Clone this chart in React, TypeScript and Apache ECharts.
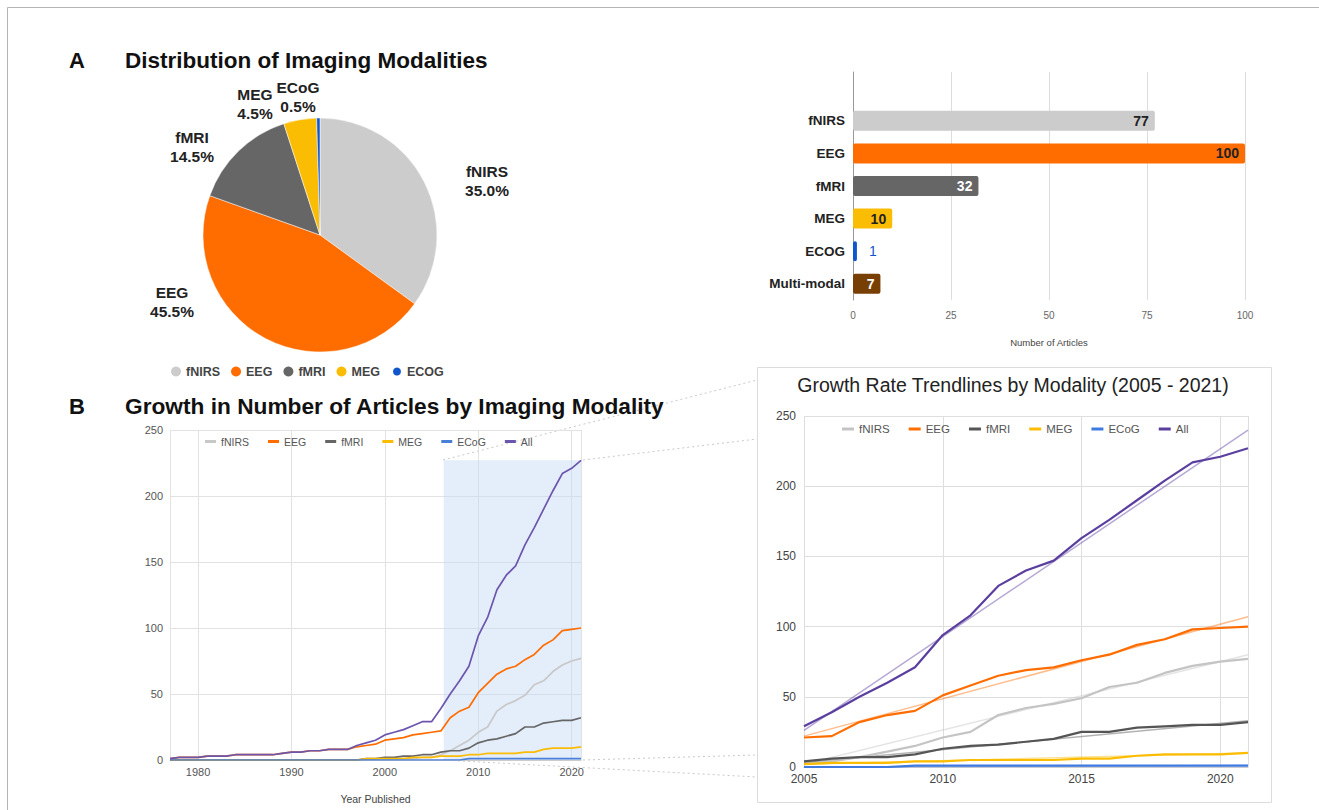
import React, { useEffect, useRef } from 'react';
import * as echarts from 'echarts';

// ---------- DATA ----------
const pieNames = ['fNIRS', 'EEG', 'fMRI', 'MEG', 'ECOG'];
const pieLabelNames = ['fNIRS', 'EEG', 'fMRI', 'MEG', 'ECoG'];
const pieValues = [77, 100, 32, 10, 1];
const pieColors = ['#cccccc', '#ff6d01', '#666666', '#fbbc04', '#1155cc'];

const barCategories = ['fNIRS', 'EEG', 'fMRI', 'MEG', 'ECOG', 'Multi-modal'];
const barValues = [77, 100, 32, 10, 1, 7];
const barColors = ['#cccccc', '#ff6d01', '#666666', '#fbbc04', '#1155cc', '#783f04'];
const barLabelColors = ['#222222', '#222222', '#ffffff', '#222222', '#1155cc', '#ffffff'];

const years = [
  1977, 1978, 1979, 1980, 1981, 1982, 1983, 1984, 1985, 1986, 1987, 1988, 1989, 1990, 1991,
  1992, 1993, 1994, 1995, 1996, 1997, 1998, 1999, 2000, 2001, 2002, 2003, 2004, 2005, 2006,
  2007, 2008, 2009, 2010, 2011, 2012, 2013, 2014, 2015, 2016, 2017, 2018, 2019, 2020, 2021,
];
const fnirsCounts = [
  0, 0, 0, 0, 0, 0, 0, 0, 0, 0, 0, 0, 0, 0, 0,
  0, 0, 0, 0, 0, 0, 0, 0, 0, 1, 1, 1, 2, 2, 4,
  7, 11, 15, 21, 25, 37, 42, 45, 49, 57, 60, 67, 72, 75, 77,
];
const eegCounts = [
  1, 2, 2, 2, 3, 3, 3, 4, 4, 4, 4, 4, 5, 6, 6,
  7, 7, 8, 8, 8, 10, 11, 12, 15, 16, 17, 19, 20, 21, 22,
  32, 37, 40, 51, 58, 65, 69, 71, 76, 80, 87, 91, 98, 99, 100,
];
const fmriCounts = [
  0, 0, 0, 0, 0, 0, 0, 0, 0, 0, 0, 0, 0, 0, 0,
  0, 0, 0, 0, 0, 0, 1, 1, 2, 2, 3, 3, 4, 4, 6,
  7, 7, 9, 13, 15, 16, 18, 20, 25, 25, 28, 29, 30, 30, 32,
];
const megCounts = [
  0, 0, 0, 0, 0, 0, 0, 0, 0, 0, 0, 0, 0, 0, 0,
  0, 0, 0, 0, 0, 0, 1, 1, 1, 1, 1, 2, 2, 2, 3,
  3, 3, 4, 4, 5, 5, 5, 5, 6, 6, 8, 9, 9, 9, 10,
];
const ecogCounts = [
  0, 0, 0, 0, 0, 0, 0, 0, 0, 0, 0, 0, 0, 0, 0,
  0, 0, 0, 0, 0, 0, 0, 0, 0, 0, 0, 0, 0, 0, 0,
  0, 0, 1, 1, 1, 1, 1, 1, 1, 1, 1, 1, 1, 1, 1,
];
const allCounts = [
  1, 2, 2, 2, 3, 3, 3, 4, 4, 4, 4, 4, 5, 6, 6,
  7, 7, 8, 8, 8, 11, 13, 15, 19, 21, 23, 26, 29, 29, 39,
  50, 60, 71, 94, 108, 129, 140, 147, 163, 176, 190, 204, 217, 221, 227,
];

const lineNames = ['fNIRS', 'EEG', 'fMRI', 'MEG', 'ECoG', 'All'];
const lineCounts = [fnirsCounts, eegCounts, fmriCounts, megCounts, ecogCounts, allCounts];
const lineColors = ['#c8c8c8', '#ff6d01', '#666666', '#fbbc04', '#4a7fd8', '#6c56ad'];
const rightLineColors = ['#c4c4c4', '#ff6d01', '#555555', '#fbbc04', '#3f7ae0', '#5b3f9f'];

// Zoomed window shown in the right panel
const zoomYears = [2006.3, 2021.2];
const zoomTop = 227;
const trendYears = [2005, 2021];
const trendStart = [2, 22, 3, 2, 0, 26];
const trendEnd = [80, 107, 33, 10, 1, 240];

const FONT = '"Liberation Sans", Arial, sans-serif';

function buildOption(): any {
  const startIdx = years.indexOf(2005);
  const pairs = (vals: number[], from = 0) =>
    years.slice(from).map((y, i) => [y, vals[from + i]]);

  // label layout for pie (text placement only)
  const pieLabelPos = [
    [487, 181],
    [172, 302],
    [192, 147],
    [255, 104],
    [298, 97],
  ];

  const leftLines = lineNames.map((name, k) => ({
    type: 'line',
    name,
    xAxisIndex: 1,
    yAxisIndex: 1,
    data: pairs(lineCounts[k]),
    showSymbol: false,
    symbol: 'none',
    silent: true,
    color: lineColors[k],
    lineStyle: { width: 1.7, color: lineColors[k] },
    z: 3 + k,
    ...(k === 0
      ? {
          markArea: {
            silent: true,
            itemStyle: { color: 'rgba(196, 214, 243, 0.45)' },
            data: [[{ coord: [zoomYears[0], 0] }, { coord: [zoomYears[1], zoomTop] }]],
          },
        }
      : {}),
  }));

  const trendLines = lineNames.map((name, k) => ({
    type: 'line',
    name: name + ' trend',
    xAxisIndex: 2,
    yAxisIndex: 2,
    data: [
      [trendYears[0], trendStart[k]],
      [trendYears[1], trendEnd[k]],
    ],
    showSymbol: false,
    symbol: 'none',
    silent: true,
    lineStyle: { width: 1.5, color: rightLineColors[k], opacity: 0.45 },
    z: 2,
  }));

  const rightLines = lineNames.map((name, k) => ({
    type: 'line',
    name,
    xAxisIndex: 2,
    yAxisIndex: 2,
    data: pairs(lineCounts[k], startIdx),
    showSymbol: false,
    symbol: 'none',
    silent: true,
    color: lineColors[k],
    lineStyle: { width: 2.2, color: rightLineColors[k] },
    z: 4 + k,
  }));

  const barCatsRev = [...barCategories].reverse();
  const barData = barValues
    .map((v, i) => ({
      value: v,
      itemStyle: { color: barColors[i], borderRadius: 2 },
      label: {
        color: barLabelColors[i],
        position: v < 3 ? 'right' : 'insideRight',
        distance: v < 3 ? 12 : 6,
        fontWeight: v < 3 ? 'normal' : 'bold',
      },
    }))
    .reverse();

  const dashed = { stroke: '#c9c9c9', lineWidth: 1, lineDash: [2, 3] };
  const plainYear = (v: number) => String(v);

  return {
    animation: false,
    backgroundColor: '#ffffff',
    textStyle: { fontFamily: FONT },
    graphic: [
      {
        type: 'rect',
        silent: true,
        z: -20,
        shape: { x: 7.5, y: 7.5, width: 1340, height: 840 },
        style: { fill: 'none', stroke: '#b5b5b5', lineWidth: 1 },
      },
      { type: 'line', silent: true, z: -10, shape: { x1: 443, y1: 460, x2: 757, y2: 380 }, style: dashed },
      { type: 'line', silent: true, z: -10, shape: { x1: 583, y1: 460, x2: 757, y2: 439 }, style: dashed },
      { type: 'line', silent: true, z: -10, shape: { x1: 583, y1: 760, x2: 757, y2: 755 }, style: dashed },
      { type: 'line', silent: true, z: -10, shape: { x1: 443, y1: 760, x2: 757, y2: 777 }, style: dashed },
      {
        type: 'rect',
        silent: true,
        z: -5,
        shape: { x: 757.5, y: 367.5, width: 514, height: 435 },
        style: { fill: '#ffffff', stroke: '#dcdcdc', lineWidth: 1 },
      },
      {
        type: 'text',
        silent: true,
        x: 69,
        y: 60,
        style: { text: 'A', font: `bold 22px ${FONT}`, fill: '#111', verticalAlign: 'middle' },
      },
      {
        type: 'text',
        silent: true,
        x: 125,
        y: 60,
        style: {
          text: 'Distribution of Imaging Modalities',
          font: `bold 22.5px ${FONT}`,
          fill: '#111',
          verticalAlign: 'middle',
        },
      },
      {
        type: 'text',
        silent: true,
        x: 69,
        y: 406,
        style: { text: 'B', font: `bold 22px ${FONT}`, fill: '#111', verticalAlign: 'middle' },
      },
      {
        type: 'text',
        silent: true,
        x: 125,
        y: 406,
        style: {
          text: 'Growth in Number of Articles by Imaging Modality',
          font: `bold 22.7px ${FONT}`,
          fill: '#111',
          verticalAlign: 'middle',
        },
      },
      {
        type: 'text',
        silent: true,
        x: 1013,
        y: 385,
        style: {
          text: 'Growth Rate Trendlines by Modality (2005 - 2021)',
          font: `19.5px ${FONT}`,
          fill: '#222',
          align: 'center',
          verticalAlign: 'middle',
        },
      },
    ],
    legend: [
      {
        left: 166,
        top: 360,
        orient: 'horizontal',
        itemWidth: 10,
        itemHeight: 10,
        itemGap: 11,
        selectedMode: false,
        textStyle: { fontFamily: FONT, fontSize: 12.5, fontWeight: 'bold', color: '#444' },
        data: pieNames.map((n, i) => ({ name: n, icon: 'circle', itemStyle: { color: pieColors[i] } })),
      },
      {
        left: 200,
        top: 431,
        itemWidth: 11,
        itemHeight: 3,
        itemGap: 19,
        selectedMode: false,
        textStyle: { fontFamily: FONT, fontSize: 10.5, color: '#555' },
        data: lineNames.map((n, i) => ({ name: n, icon: 'rect', itemStyle: { color: lineColors[i] } })),
      },
      {
        left: 837,
        top: 418,
        itemWidth: 12,
        itemHeight: 3,
        itemGap: 19,
        selectedMode: false,
        textStyle: { fontFamily: FONT, fontSize: 11.5, color: '#555' },
        data: lineNames.map((n, i) => ({ name: n, icon: 'rect', itemStyle: { color: rightLineColors[i] } })),
      },
    ],
    grid: [
      { left: 853, top: 72, width: 392, height: 228 },
      { left: 170, top: 430, width: 411, height: 330 },
      { left: 804, top: 416, width: 444, height: 351 },
    ],
    xAxis: [
      {
        gridIndex: 0,
        type: 'value',
        min: 0,
        max: 100,
        interval: 25,
        axisLine: { show: false },
        axisTick: { show: false },
        splitLine: { lineStyle: { color: '#dddddd' } },
        axisLabel: { fontSize: 10, color: '#666', margin: 10, fontFamily: FONT },
        name: 'Number of Articles',
        nameLocation: 'middle',
        nameGap: 37,
        nameTextStyle: { fontSize: 9.5, color: '#444', fontFamily: FONT },
      },
      {
        gridIndex: 1,
        type: 'value',
        min: 1977,
        max: 2021,
        splitNumber: 5,
        axisLine: { lineStyle: { color: '#cccccc' } },
        axisTick: { show: false },
        splitLine: { lineStyle: { color: '#e2e2e2' } },
        axisLabel: {
          fontSize: 11,
          color: '#555',
          margin: 6,
          showMinLabel: false,
          showMaxLabel: false,
          fontFamily: FONT,
          formatter: plainYear,
        },
        name: 'Year Published',
        nameLocation: 'middle',
        nameGap: 33,
        nameTextStyle: { fontSize: 10.5, color: '#444', fontFamily: FONT },
      },
      {
        gridIndex: 2,
        type: 'value',
        min: 2005,
        max: 2021,
        interval: 5,
        axisLine: { lineStyle: { color: '#cccccc' } },
        axisTick: { show: false },
        splitLine: { lineStyle: { color: '#dedede' } },
        axisLabel: {
          fontSize: 12,
          color: '#444',
          margin: 6,
          showMaxLabel: false,
          fontFamily: FONT,
          formatter: plainYear,
        },
      },
    ],
    yAxis: [
      {
        gridIndex: 0,
        type: 'category',
        data: barCatsRev,
        max: barCategories.length,
        axisLine: { lineStyle: { color: '#999999' } },
        axisTick: { show: false },
        splitLine: { show: false },
        axisLabel: {
          fontSize: 13.5,
          fontWeight: 'bold',
          color: '#222',
          margin: 8,
          fontFamily: FONT,
          formatter: (v: any) => (barCategories.includes(v) ? v : ''),
        },
      },
      {
        gridIndex: 1,
        type: 'value',
        min: 0,
        max: 250,
        interval: 50,
        axisLine: { show: false },
        axisTick: { show: false },
        splitLine: { lineStyle: { color: '#e2e2e2' } },
        axisLabel: { fontSize: 11, color: '#555', margin: 7, fontFamily: FONT },
      },
      {
        gridIndex: 2,
        type: 'value',
        min: 0,
        max: 250,
        interval: 50,
        axisLine: { show: false },
        axisTick: { show: false },
        splitLine: { lineStyle: { color: '#dedede' } },
        axisLabel: { fontSize: 12, color: '#444', margin: 8, fontFamily: FONT },
      },
    ],
    series: [
      {
        type: 'pie',
        name: 'Distribution',
        center: [320, 235],
        radius: 117,
        startAngle: 90,
        clockwise: true,
        percentPrecision: 1,
        silent: true,
        itemStyle: { borderColor: '#ffffff', borderWidth: 0.5 },
        data: pieNames.map((n, i) => ({ name: n, value: pieValues[i], itemStyle: { color: pieColors[i] } })),
        label: {
          show: true,
          position: 'outside',
          fontFamily: FONT,
          fontSize: 15.5,
          fontWeight: 'bold',
          color: '#222',
          lineHeight: 19,
          formatter: (p: any) => `${pieLabelNames[p.dataIndex]}\n${Number(p.percent).toFixed(1)}%`,
        },
        labelLine: { show: false },
        labelLayout: (p: any) => ({
          x: pieLabelPos[p.dataIndex][0],
          y: pieLabelPos[p.dataIndex][1],
          align: 'center',
          verticalAlign: 'middle',
        }),
      },
      {
        type: 'bar',
        name: 'Articles',
        xAxisIndex: 0,
        yAxisIndex: 0,
        barWidth: 20,
        silent: true,
        data: barData,
        label: { show: true, fontSize: 14, fontFamily: FONT },
      },
      ...leftLines,
      ...trendLines,
      ...rightLines,
    ],
  };
}

export default function App() {
  const ref = useRef<HTMLDivElement>(null);
  useEffect(() => {
    if (!ref.current) return;
    const chart = echarts.init(ref.current, null, { renderer: 'svg' });
    chart.setOption(buildOption());
    return () => chart.dispose();
  }, []);
  return (
    <div
      ref={ref}
      style={{ position: 'fixed', left: 0, top: 0, width: 1319, height: 810, background: '#fff' }}
    />
  );
}
